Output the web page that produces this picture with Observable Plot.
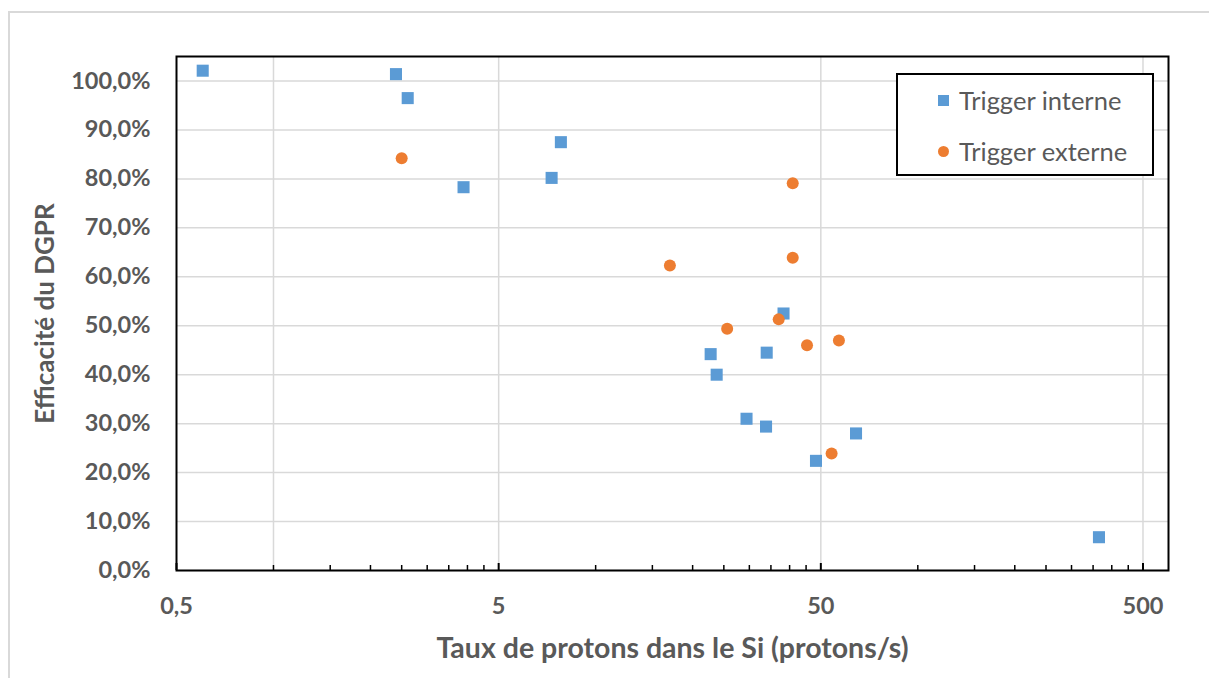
<!DOCTYPE html>
<html>
<head>
<meta charset="utf-8">
<script src="https://cdn.jsdelivr.net/npm/d3@7"></script>
<script src="https://cdn.jsdelivr.net/npm/@observablehq/plot@0.6"></script>
<style>
  body { margin: 0; background: #fff; }
  #wrap { position: relative; width: 1209px; height: 678px; overflow: hidden; font-family: Lato, "Noto Sans", sans-serif; }
  #border { position: absolute; left: 8px; top: 11px; width: 1300px; height: 800px; border-top: 2px solid #d9d9d9; border-left: 2px solid #d9d9d9; box-sizing: border-box; }
  #chart { position: absolute; left: 0; top: 0; }
  #legend { position: absolute; left: 896px; top: 73px; width: 258px; height: 103px; border: 2px solid #000; background: #fff; box-sizing: border-box; }
  .item { position: absolute; left: 0; height: 30px; display: flex; align-items: center; font-size: 25.5px; color: #595959; }
  .sym { display: inline-block; width: 11px; height: 11px; margin-left: 40px; margin-right: 10px; }
</style>
</head>
<body>
<div id="wrap">
  <div id="border"></div>
  <div id="chart"></div>
  <div id="legend"></div>
</div>
<script>
// Series: Trigger interne (squares)
const interneX = [0.603, 2.40, 2.61, 3.89, 7.30, 7.80, 38.3, 22.75, 23.75, 33.96, 29.4, 33.8, 48.3, 64.3, 365];
const interneY = [1.021, 1.014, 0.965, 0.783, 0.802, 0.875, 0.525, 0.442, 0.400, 0.445, 0.310, 0.294, 0.224, 0.280, 0.068];
// Series: Trigger externe (circles)
const externeX = [2.50, 17.0, 40.9, 40.9, 25.6, 37.0, 45.3, 56.9, 54.0];
const externeY = [0.842, 0.623, 0.791, 0.639, 0.494, 0.513, 0.460, 0.470, 0.239];

const seriesNames = ["Trigger interne", "Trigger externe"];
const seriesColors = ["#5B9BD5", "#ED7D31"];

const xTickValues = [0.5, 5, 50, 500];
const xTickLabels = ["0,5", "5", "50", "500"];
const xGridValues = [1, 5, 50, 500];
const xMinorTicks = [1, 1.5, 2, 2.5, 3, 3.5, 4, 4.5, 10, 15, 20, 25, 30, 35, 40, 45, 100, 150, 200, 250, 300, 350, 400, 450];
const yTicks = [0, 0.1, 0.2, 0.3, 0.4, 0.5, 0.6, 0.7, 0.8, 0.9, 1.0];

const xTitle = "Taux de protons dans le Si (protons/s)";
const yTitle = "Efficacité du DGPR";

const interne = interneX.map((x, i) => ({x, y: interneY[i]}));
const externe = externeX.map((x, i) => ({x, y: externeY[i]}));
const xLabelRows = xTickValues.map((x, i) => ({x, label: xTickLabels[i]}));

const W = 1209, H = 678, mT = 56, mB = 108, mL = 176, mR = 41;
const plotH = H - mT - mB;

const chart = Plot.plot({
  width: W, height: H,
  marginLeft: mL, marginRight: mR, marginTop: mT, marginBottom: mB,
  x: {type: "log", domain: [0.5, 600], axis: null},
  y: {domain: [0, 1.05]},
  style: {fontFamily: "Lato, 'Noto Sans', sans-serif", background: "transparent", overflow: "visible"},
  marks: [
    Plot.gridY(yTicks, {stroke: "#d9d9d9", strokeOpacity: 1, strokeWidth: 1.5}),
    Plot.gridX(xGridValues, {stroke: "#d9d9d9", strokeOpacity: 1, strokeWidth: 1.5}),
    Plot.tickX(xMinorTicks, {x: d => d, stroke: "black", strokeWidth: 1.5, insetTop: plotH - 5}),
    Plot.tickX(xTickValues, {x: d => d, stroke: "black", strokeWidth: 2, insetTop: plotH - 7}),
    Plot.axisY({ticks: yTicks, tickSize: 0, tickPadding: 26, label: null,
      tickFormat: d => (d * 100).toFixed(1).replace(".", ",") + "%",
      fontSize: 23.5, fontWeight: "bold", fill: "#595959"}),
    Plot.text(xLabelRows, {x: "x", text: "label", frameAnchor: "bottom", lineAnchor: "middle", textAnchor: "middle",
      dy: 36, fontSize: 23.5, fontWeight: "bold", fill: "#595959"}),
    Plot.frame({stroke: "black", strokeWidth: 2}),
    Plot.dot(interne, {x: "x", y: "y", symbol: "square", r: 6.8, fill: seriesColors[0]}),
    Plot.dot(externe, {x: "x", y: "y", symbol: "circle", r: 6, fill: seriesColors[1]}),
    Plot.text([xTitle], {frameAnchor: "bottom", lineAnchor: "middle", textAnchor: "middle", dy: 78,
      fontSize: 28.5, fontWeight: "bold", fill: "#595959"}),
    Plot.text([yTitle], {frameAnchor: "left", lineAnchor: "middle", textAnchor: "middle", rotate: -90, dx: -131,
      fontSize: 26, fontWeight: "bold", fill: "#595959"})
  ]
});
document.getElementById("chart").appendChild(chart);

// Legend
const legend = document.getElementById("legend");
const tops = [10, 61];
seriesNames.forEach((name, i) => {
  const item = document.createElement("div");
  item.className = "item";
  item.style.top = tops[i] + "px";
  const sym = document.createElement("span");
  sym.className = "sym";
  sym.style.background = seriesColors[i];
  if (i === 1) sym.style.borderRadius = "50%";
  item.appendChild(sym);
  const t = document.createElement("span");
  t.textContent = name;
  item.appendChild(t);
  legend.appendChild(item);
});
</script>
</body>
</html>
